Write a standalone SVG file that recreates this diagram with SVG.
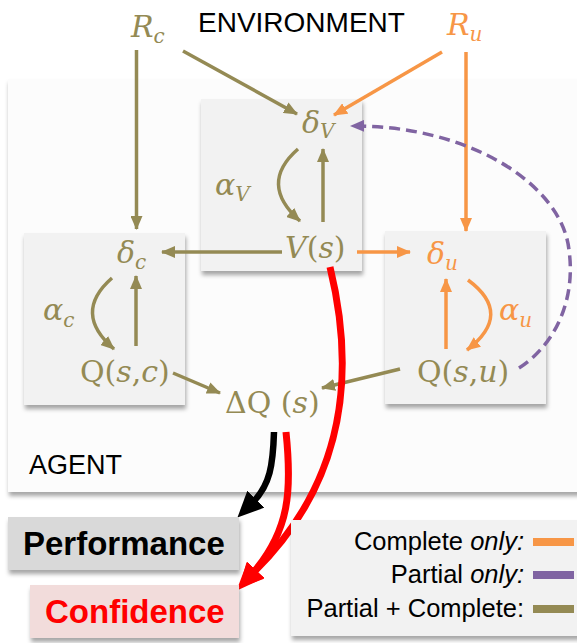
<svg xmlns="http://www.w3.org/2000/svg" width="577" height="643" viewBox="0 0 577 643">
<defs>
  <filter id="sh" x="-10%" y="-10%" width="120%" height="130%">
    <feDropShadow dx="1" dy="4" stdDeviation="2" flood-color="#000" flood-opacity="0.35"/>
  </filter>
  <marker id="aOl" markerUnits="userSpaceOnUse" markerWidth="14" markerHeight="12" refX="13" refY="6" orient="auto">
    <path d="M0,0 L14,6 L0,12 z" fill="#948A54"/>
  </marker>
  <marker id="aOr" markerUnits="userSpaceOnUse" markerWidth="14" markerHeight="12" refX="13" refY="6" orient="auto">
    <path d="M0,0 L14,6 L0,12 z" fill="#F79646"/>
  </marker>
  <marker id="aPu" markerUnits="userSpaceOnUse" markerWidth="14" markerHeight="12" refX="13" refY="6" orient="auto">
    <path d="M0,0 L14,6 L0,12 z" fill="#8064A2"/>
  </marker>
  <marker id="aRed" markerUnits="userSpaceOnUse" markerWidth="26" markerHeight="24" refX="4" refY="12" orient="auto">
    <path d="M0,0 L26,12 L0,24 z" fill="#FF0000"/>
  </marker>
  <marker id="aBlk" markerUnits="userSpaceOnUse" markerWidth="26" markerHeight="24" refX="4" refY="12" orient="auto">
    <path d="M0,0 L26,12 L0,24 z" fill="#000"/>
  </marker>
</defs>
<style>
  .m{font-family:"DejaVu Serif",serif;font-size:30px;fill:#948A54}
  .i{font-style:italic}
  .o{fill:#F79646}
  .sub{font-size:20px}
  .sans{font-family:"Liberation Sans",Arial,sans-serif}
  .box{fill:#F2F2F2;filter:url(#sh)}
  .ln{fill:none;stroke-width:3.5}
  .ol{stroke:#948A54}
  .or{stroke:#F79646}
</style>
<rect width="577" height="643" fill="#fff"/>

<!-- environment label and rewards -->
<text class="sans" x="198" y="32" font-size="28" fill="#000">ENVIRONMENT</text>
<g id="Rc"><text class="m i" x="131" y="37">R<tspan class="sub" dy="6">c</tspan></text></g>
<g id="Ru"><text class="m i o" x="447" y="35">R<tspan class="sub" dy="6">u</tspan></text></g>

<!-- agent container -->
<g id="agent">
  <rect x="8" y="79" width="580" height="413" fill="#FCFCFC" filter="url(#sh)"/>
  <text class="sans" x="29" y="474" font-size="27" fill="#000">AGENT</text>
</g>

<!-- sub-modules -->
<g id="boxV"><rect class="box" x="201" y="99" width="161" height="172"/></g>
<g id="boxC"><rect class="box" x="24" y="233" width="161" height="172"/></g>
<g id="boxU"><rect class="box" x="385" y="231" width="161" height="173"/></g>

<!-- node labels -->
<g id="deltaV"><text class="m i" x="302" y="133">δ<tspan class="sub" dy="5">V</tspan></text></g>
<g id="alphaV"><text class="m i" x="215" y="195">α<tspan class="sub" dy="6">V</tspan></text></g>
<g id="Vs"><text class="m" x="285" y="258"><tspan class="i">V</tspan>(<tspan class="i">s</tspan>)</text></g>
<g id="deltaC"><text class="m i" x="117" y="263">δ<tspan class="sub" dy="6">c</tspan></text></g>
<g id="alphaC"><text class="m i" x="43" y="320">α<tspan class="sub" dy="7">c</tspan></text></g>
<g id="Qsc"><text class="m" x="80" y="382">Q(<tspan class="i">s</tspan>,<tspan class="i">c</tspan>)</text></g>
<g id="deltaU"><text class="m i o" x="427" y="264">δ<tspan class="sub" dy="6">u</tspan></text></g>
<g id="alphaU"><text class="m i o" x="499" y="320">α<tspan class="sub" dy="7">u</tspan></text></g>
<g id="Qsu"><text class="m" x="417" y="382">Q(<tspan class="i">s</tspan>,<tspan class="i">u</tspan>)</text></g>
<g id="dQ"><text class="m" x="225" y="413">ΔQ (<tspan class="i">s</tspan>)</text></g>

<!-- connectors -->
<g id="connectors">
  <path class="ln ol" d="M136.5 50 V229" marker-end="url(#aOl)"/>
  <path class="ln ol" d="M183 51 L297 114" marker-end="url(#aOl)"/>
  <path class="ln or" d="M442 52 L334 115" marker-end="url(#aOr)"/>
  <path class="ln or" d="M466 52 V231" marker-end="url(#aOr)"/>
  <path class="ln ol" d="M323 222 V149" marker-end="url(#aOl)"/>
  <path class="ln ol" d="M298 149 Q258 184 300 221" marker-end="url(#aOl)"/>
  <path class="ln ol" d="M282 252 H162" marker-end="url(#aOl)"/>
  <path class="ln or" d="M357 252 H410" marker-end="url(#aOr)"/>
  <path class="ln ol" d="M136 346 V276" marker-end="url(#aOl)"/>
  <path class="ln ol" d="M112 278 Q72 313 114 349" marker-end="url(#aOl)"/>
  <path class="ln or" d="M446 349 V279" marker-end="url(#aOr)"/>
  <path class="ln or" d="M468 280 Q514 314 467 350" marker-end="url(#aOr)"/>
  <path class="ln ol" d="M173 373 L220 393" marker-end="url(#aOl)"/>
  <path class="ln ol" d="M400 369 L322 388" marker-end="url(#aOl)"/>
  <path d="M519 368 C555 345 576 300 569 250 C562 185 470 125 351 126" fill="none" stroke="#8064A2" stroke-width="3.5" stroke-dasharray="11 6" marker-end="url(#aPu)"/>
  <path d="M274 432 C273 465 270 485 253 502" fill="none" stroke="#000" stroke-width="6.5" marker-end="url(#aBlk)"/>
  <path d="M286 432 C292 490 290 530 253 573" fill="none" stroke="#FF0000" stroke-width="7" marker-end="url(#aRed)"/>
  <path d="M330 267 C355 370 348 480 253 573" fill="none" stroke="#FF0000" stroke-width="7" marker-end="url(#aRed)"/>
</g>

<!-- outcomes -->
<g id="performance">
  <rect x="8" y="517" width="231" height="53" fill="#D9D9D9" filter="url(#sh)"/>
  <text class="sans" x="23" y="555" font-size="33" font-weight="bold" fill="#000">Performance</text>
</g>
<g id="confidence">
  <rect x="30" y="585" width="209" height="53" fill="#F2DCDB" filter="url(#sh)"/>
  <text class="sans" x="45" y="623" font-size="33" font-weight="bold" fill="#FF0000">Confidence</text>
</g>

<!-- legend -->
<g id="legend">
  <rect x="291" y="520" width="300" height="116" fill="#F2F2F2" filter="url(#sh)"/>
  <g class="sans" font-size="25.5" fill="#000" text-anchor="end">
    <text x="524" y="550">Complete <tspan font-style="italic">only:</tspan></text>
    <text x="524" y="583">Partial <tspan font-style="italic">only:</tspan></text>
    <text x="524" y="617">Partial + Complete:</text>
  </g>
  <rect x="533" y="538" width="41" height="8" fill="#F79646"/>
  <rect x="533" y="571" width="41" height="8" fill="#8064A2"/>
  <rect x="533" y="605" width="41" height="8" fill="#948A54"/>
</g>
</svg>
